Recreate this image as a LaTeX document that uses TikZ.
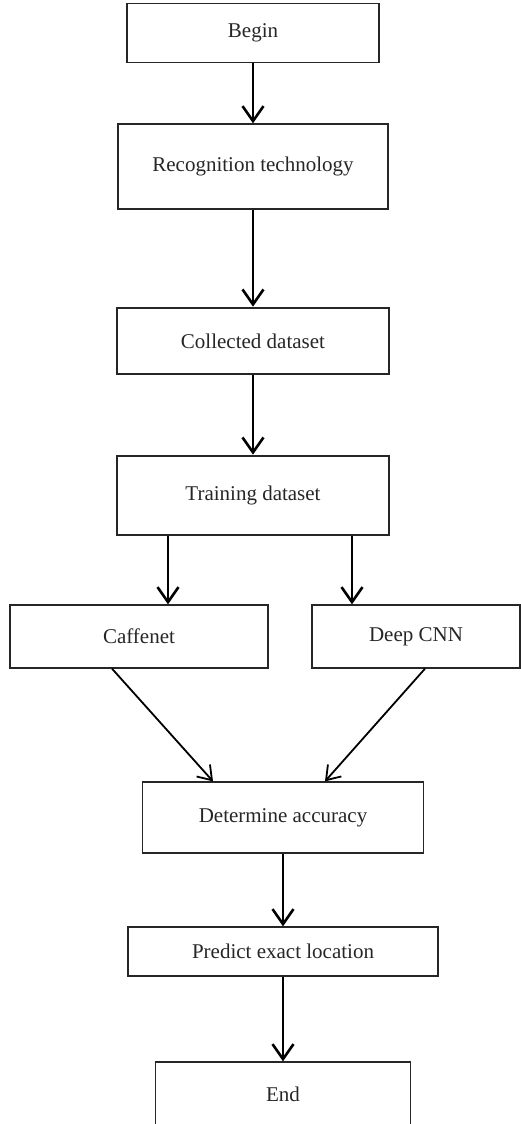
\documentclass[tikz,border=0pt]{standalone}
\usepackage{fontspec}
\setmainfont{Liberation Serif}
\usetikzlibrary{arrows.meta}
\tikzset{
  box/.style={draw=black!85, line width=1.3pt, minimum height=#1, inner sep=0pt},
  box/.default=60pt,
  boldbox/.style={box=#1, line width=2.6pt},
  flow/.style={-{Straight Barb[length=15pt,width=21pt,line width=2.6pt]}, line width=2.8pt},
  slant/.style={-{Straight Barb[length=13pt,width=18pt,line width=1.8pt]}, line width=1.8pt}
}
\begin{document}
\begin{tikzpicture}[x=1pt, y=-1pt, font=\fontsize{21}{25}\selectfont, text=black!85]
    \useasboundingbox (0, 0) rectangle (521, 1124);
    \clip (0, 0) rectangle (521, 1124);
    \node [box=59pt, minimum width=252pt] (begin) at (253, 33) {Begin};
    \node [box=85pt, minimum width=270pt] (recog) at (253, 166.5) {Recognition technology};
    \node [boldbox=66pt, minimum width=272pt] (collect) at (253, 341) {Collected dataset};
    \node [boldbox=79pt, minimum width=272pt] (train) at (253, 495.5) {Training dataset};
    \node [box=63pt, minimum width=258pt] (caffe) at (139, 636.5) {Caffenet};
    \node [box=63pt, minimum width=208pt] (deep) at (416, 636.5) {Deep CNN};
    \node [box=71pt, minimum width=281pt] (accur) at (283, 817.5) {Determine accuracy};
    \node [box=49pt, minimum width=310pt] (predict) at (283, 951.5) {Predict exact location};
    \node [box=64pt, minimum width=255pt] (end) at (283, 1094) {End};
    \draw [flow] (begin) -- (recog);
    \draw [flow] (recog) -- (collect);
    \draw [flow] (collect) -- (train);
    \draw [flow] ([xshift=-85pt]train.south) -- ([xshift=-85pt]train.south |- caffe.north);
    \draw [flow] ([xshift=99pt]train.south) -- ([xshift=99pt]train.south |- deep.north);
    \draw [slant] ([xshift=-27pt]caffe.south) -- ([xshift=-70pt]accur.north);
    \draw [slant] ([xshift=9pt]deep.south) -- ([xshift=42pt]accur.north);
    \draw [flow] (accur) -- (predict);
    \draw [flow] (predict) -- (end);
  \end{tikzpicture}
\end{document}
